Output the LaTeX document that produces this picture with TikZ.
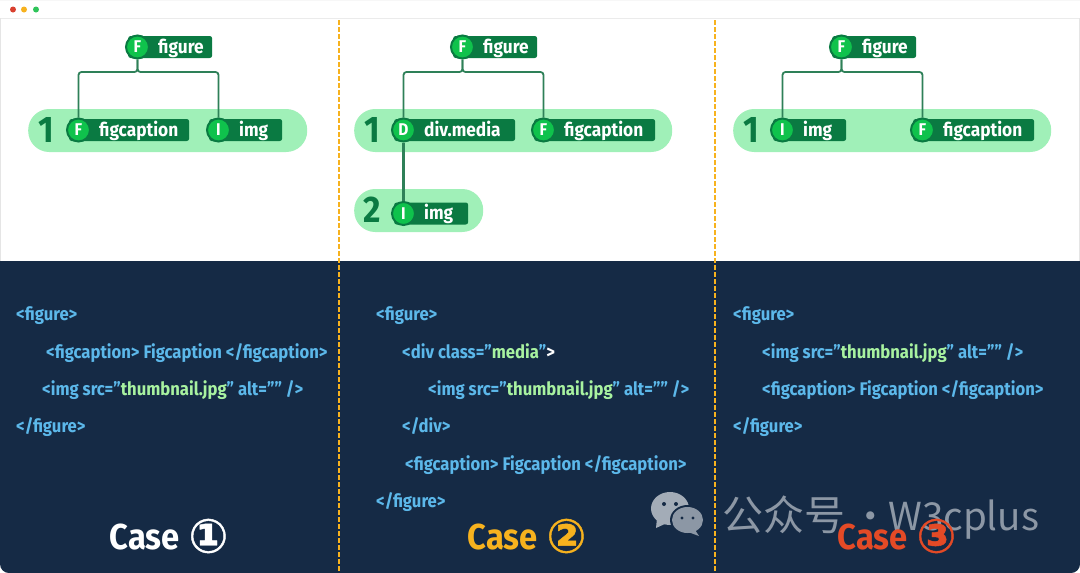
\documentclass[tikz,border=0pt]{standalone}
\usepackage{fontspec}
\setmainfont{Fira Sans}[FakeStretch=0.91]
\newfontfamily\cjkfont{Noto Sans CJK SC}
\newfontfamily\symfont{DejaVu Sans}[FakeBold=0.9]
\usetikzlibrary{positioning}

\definecolor{navy}{HTML}{152A45}
\definecolor{mint}{HTML}{A0F0B8}
\definecolor{forest}{HTML}{0A7A42}
\definecolor{leaf}{HTML}{0FC24C}
\definecolor{wirecol}{HTML}{2E8058}
\definecolor{codeblue}{HTML}{5CB8EA}
\definecolor{codegreen}{HTML}{A8F2A0}
\definecolor{caseyellow}{HTML}{F7B21E}
\definecolor{casered}{HTML}{E44A26}
\definecolor{chatgrey}{HTML}{8C97A5}
\definecolor{dotred}{HTML}{D9402F}
\definecolor{dotgreen}{HTML}{2FC45A}

\tikzset{
	band/.style={fill=mint, rounded corners=21pt, minimum height=43pt, inner sep=0pt, anchor=west},
	tag/.style={fill=forest, rounded corners=2.5pt, text=white, font=\fontsize{19}{19}\selectfont\bfseries, anchor=west,
		text width=#1, align=left, inner xsep=0pt, inner ysep=0pt, minimum height=22pt, text height=17pt, text depth=5pt,
		execute at begin node=\hspace*{30pt}},
	badge/.style={circle, fill=leaf, draw=forest, line width=2pt, text=white, minimum size=23pt, inner sep=0pt, font=\fontsize{17}{17}\selectfont\bfseries},
	level/.style={text=forest, font=\fontsize{37}{37}\selectfont\bfseries, inner sep=0pt},
	wire/.style={draw=wirecol, line width=1.8pt, rounded corners=3pt},
	code/.style={text=codeblue, anchor=west, inner sep=0pt, font=\fontsize{18.3}{18.3}\selectfont\bfseries, text height=17pt, text depth=4pt},
	caselabel/.style={inner sep=0pt, font=\fontsize{36}{36}\selectfont\bfseries},
	dashline/.style={draw=caseyellow, line width=1.2pt, dash pattern=on 5pt off 2pt}
}
\newcommand{\str}[1]{\textcolor{codegreen}{#1}}
\newcommand{\digit}[1]{\hspace{1pt}\raisebox{-2.5pt}{\symfont\fontsize{47}{36}\selectfont #1}}

\begin{document}
\begin{tikzpicture}[x=1pt, y=-1pt]
\useasboundingbox (0,0) rectangle (1080,573);
\fill[white] (0,0) rectangle (1080,573);

% window bar
\draw[black!8, line width=0.8pt] (0,18.5) -- (1080,18.5);
\draw[black!10, line width=0.8pt] (0.4,18) -- (0.4,261) (1079.6,18) -- (1079.6,261);
\fill[black!3] (0,0) rectangle (1080,1);
\fill[dotred] (13,9.5) circle (3pt);
\fill[caseyellow] (24,9.5) circle (3pt);
\fill[dotgreen] (36,9.5) circle (3pt);

% lower panel
\fill[navy] (0,261) -- (1080,261) [rounded corners=9pt] -- (1080,573) -- (0,573) [sharp corners] -- (0,300) -- cycle;

% levels, first column
\node[band, minimum width=279pt]	(band1)	at (28,130.5)	{};
\node[level]						(n1)	at (46,130)		{1};
\node[tag=84pt]						(t1)	at (128,47)		{figure};
\node[tag=120pt]					(t2)	at (69,130)		{figcaption};
\node[tag=73pt]						(t3)	at (209,130)	{img};
\node[badge, right=-3pt of t1.west]	(b1)	{F};
\node[badge, right=-3pt of t2.west]	(b2)	{F};
\node[badge, right=-3pt of t3.west]	(b3)	{I};
\coordinate (j1) at (b1 |- 0,72);
\draw[wire] (b1.south) -- (j1) -| (b2.north);
\draw[wire] (b1.south) -- (j1) -| (b3.north);

% second column
\node[band, minimum width=318pt]	(band2)	at (354,130.5)	{};
\node[band, minimum width=129pt]	(band3)	at (354,210.5)	{};
\node[level]						(n2)	at (372,130)	{1};
\node[level]						(n3)	at (372,210)	{2};
\node[tag=84pt]						(t4)	at (453,47)		{figure};
\node[tag=121pt]					(t5)	at (394,130)	{div.media};
\node[tag=121pt]					(t6)	at (534,130)	{figcaption};
\node[tag=74pt]						(t7)	at (394,213.5)	{img};
\node[badge, right=-3pt of t4.west]	(b4)	{F};
\node[badge, right=-3pt of t5.west]	(b5)	{D};
\node[badge, right=-3pt of t6.west]	(b6)	{F};
\node[badge, right=-3pt of t7.west]	(b7)	{I};
\coordinate (j2) at (b4 |- 0,72);
\draw[wire] (b4.south) -- (j2) -| (b5.north);
\draw[wire] (b4.south) -- (j2) -| (b6.north);
\draw[wire, line width=2.4pt] (b5.south) -- (b7.north);

% third column
\node[band, minimum width=318pt]	(band4)	at (733,130.5)	{};
\node[level]						(n4)	at (751,130)	{1};
\node[tag=84pt]						(t8)	at (832,47)		{figure};
\node[tag=73pt]						(t9)	at (773,130)	{img};
\node[tag=121pt]					(t10)	at (913,130)	{figcaption};
\node[badge, right=-3pt of t8.west]	(b8)	{F};
\node[badge, right=-3pt of t9.west]	(b9)	{I};
\node[badge, right=-3pt of t10.west]	(b10)	{F};
\coordinate (j3) at (b8 |- 0,72);
\draw[wire] (b8.south) -- (j3) -| (b9.north);
\draw[wire] (b8.south) -- (j3) -| (b10.north);

% column rules
\coordinate (r1a) at (339,20);
\coordinate (r1b) at (339,573);
\coordinate (r2a) at (715,20);
\coordinate (r2b) at (715,573);
\draw[dashline] (r1a) -- (r1b);
\draw[dashline] (r2a) -- (r2b);

% markup, first column
\node[code]	(c1)	at (16,314)		{<figure>};
\node[code]	(c2)	at (46,352)		{<figcaption> Figcaption </figcaption>};
\node[code]	(c3)	at (42,389)		{<img src="\str{thumbnail.jpg}" alt=”” />};
\node[code]	(c4)	at (16,426)		{</figure>};

% markup, second column
\node[code]	(c5)	at (376,314)	{<figure>};
\node[code]	(c6)	at (402,352)	{<div class="\str{media}"\textcolor{white}{>}};
\node[code]	(c7)	at (428,389)	{<img src="\str{thumbnail.jpg}" alt=”” />};
\node[code]	(c8)	at (402,426)	{</div>};
\node[code]	(c9)	at (405,464)	{<figcaption> Figcaption </figcaption>};
\node[code]	(c10)	at (376,501)	{</figure>};

% markup, third column
\node[code]	(c11)	at (733,314)	{<figure>};
\node[code]	(c12)	at (762,352)	{<img src="\str{thumbnail.jpg}" alt=”” />};
\node[code]	(c13)	at (762,389)	{<figcaption> Figcaption </figcaption>};
\node[code]	(c14)	at (733,426)	{</figure>};

% chat icon and account name
\fill[chatgrey!80!white] (670,508.5) ellipse (19pt and 16.5pt);
\fill[chatgrey!80!white] (657,518) -- (656,528) -- (667,523) -- cycle;
\fill[navy] (687.5,520) ellipse (17.5pt and 15pt);
\fill[chatgrey] (687.5,520) ellipse (15.5pt and 13pt);
\fill[chatgrey] (695,530) -- (699,536) -- (688,532) -- cycle;
\fill[navy] (664,504) circle (2pt) (676,504) circle (2pt) (682,518) circle (1.6pt) (693,518) circle (1.6pt);
\node[text=chatgrey, inner sep=0pt, anchor=base west, font=\fontsize{41}{41}\selectfont\cjkfont] (acct) at (722,530) {公众号};
\node[text=chatgrey, inner sep=0pt, anchor=base west, font=\fontsize{38.5}{38.5}\selectfont\cjkfont] (acct2) at (851,530) {·};
\node[text=chatgrey, inner sep=0pt, anchor=base west, font=\fontsize{38.5}{38.5}\selectfont\cjkfont] (acct3) at (888,530) {W3cplus};

% case captions
\node[caselabel, text=white]		(case1)	at (169,536)	{Case \digit{①}};
\node[caselabel, text=caseyellow]	(case2)	at (527,536)	{Case \digit{②}};
\node[caselabel, text=casered]		(case3)	at (897,536)	{Case \digit{③}};
\end{tikzpicture}
\end{document}
